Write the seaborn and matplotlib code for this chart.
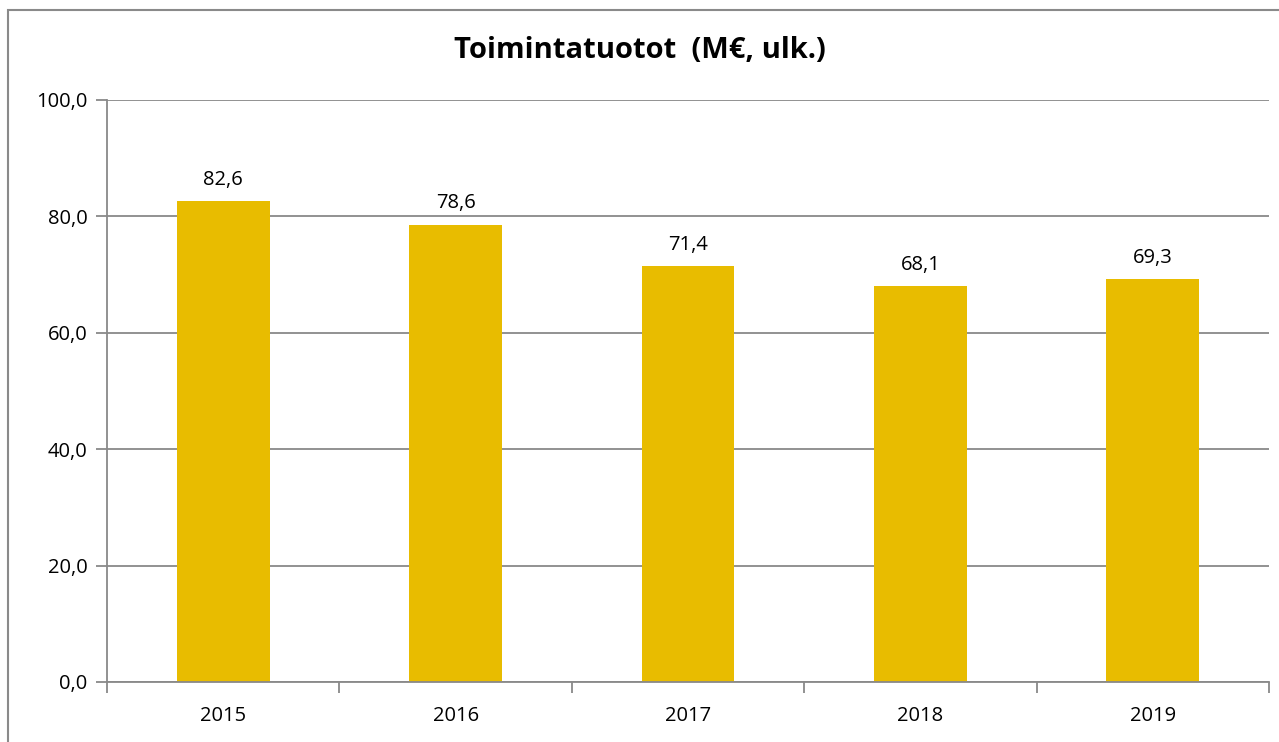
import matplotlib
matplotlib.use("Agg")
import matplotlib.pyplot as plt
import seaborn as sns
import pandas as pd
from matplotlib.patches import Rectangle
from matplotlib.ticker import FixedLocator, FuncFormatter

years = ["2015", "2016", "2017", "2018", "2019"]
values = [82.6, 78.6, 71.4, 68.1, 69.3]
title = "Toimintatuotot  (M€, ulk.)"

df = pd.DataFrame({"year": years, "value": values})

sns.set_theme(style="white")
plt.rcParams["font.family"] = ["Open Sans", "DejaVu Sans"]

GRID = "#898989"
BAR = "#E8BC00"

fig = plt.figure(figsize=(12.79, 7.42), dpi=100)
fig.patch.set_facecolor("white")
# chart frame (cut off at right and bottom)
fig.patches.append(Rectangle((8 / 1279, -0.05), 1.1, 1 - 10 / 742 + 0.05,
                             transform=fig.transFigure, fill=False,
                             edgecolor="#8a8a8a", linewidth=1.5))

ax = fig.add_axes([107 / 1279, 1 - 682 / 742, (1269 - 107) / 1279, (682 - 100) / 742])
sns.barplot(data=df, x="year", y="value", color=BAR, width=0.4,
            saturation=1, edgecolor="none", ax=ax)

ax.set_xlim(-0.5, len(years) - 0.5)
ax.set_ylim(0, 100)
ax.set_yticks([0, 20, 40, 60, 80, 100])
ax.yaxis.set_major_formatter(FuncFormatter(lambda v, p: f"{v:.1f}".replace(".", ",")))
ax.grid(axis="y", color=GRID, linewidth=1.3)
ax.set_axisbelow(True)

for sp in ["top", "right"]:
    ax.spines[sp].set_visible(False)
for sp in ["left", "bottom"]:
    ax.spines[sp].set_color(GRID)
    ax.spines[sp].set_linewidth(1.3)

ax.xaxis.set_minor_locator(FixedLocator([i - 0.5 for i in range(len(years) + 1)]))
ax.tick_params(axis="x", which="major", length=0, pad=17, labelsize=14.5, colors="black")
ax.tick_params(axis="x", which="minor", length=8, width=1.3, color=GRID, bottom=True)
ax.tick_params(axis="y", length=8, width=1.3, color=GRID, left=True, pad=6,
               labelsize=14.5, colors="black")
ax.set_xlabel("")
ax.set_ylabel("")

for c in ax.containers:
    ax.bar_label(c, labels=[f"{v:.1f}".replace(".", ",") for v in values],
                 padding=8, fontsize=14.5, color="black")

fig.text(0.5, 1 - 51 / 742, title, ha="center", va="center",
         fontsize=21, fontweight="bold", color="black")

fig.savefig("out.png", dpi=100, facecolor="white")
